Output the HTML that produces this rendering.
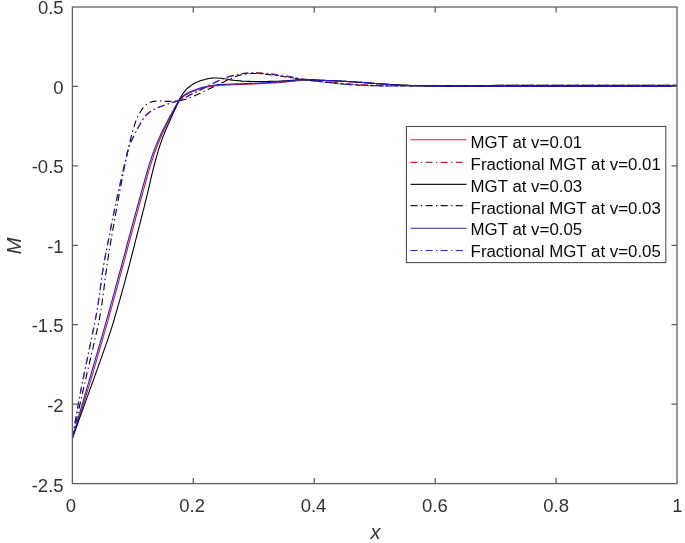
<!DOCTYPE html>
<html><head><meta charset="utf-8"><title>Plot</title>
<style>html,body{margin:0;padding:0;background:#fff;}svg{display:block;}</style></head>
<body>
<svg width="685" height="543" viewBox="0 0 685 543">
<rect width="685" height="543" fill="#fff"/>
<g fill="none" stroke-linejoin="round">
<path d="M72.4 438.0 L72.9 436.5 L73.4 435.0 L73.9 433.5 L74.4 432.0 L74.9 430.5 L75.4 429.0 L75.9 427.5 L76.4 426.0 L76.8 424.5 L77.3 423.0 L77.8 421.5 L78.3 420.0 L78.8 418.5 L79.3 417.0 L79.8 415.5 L80.3 414.0 L80.7 412.5 L81.2 411.0 L81.7 409.5 L82.2 408.0 L82.7 406.5 L83.1 405.0 L83.6 403.5 L84.1 402.0 L84.6 400.5 L85.0 399.0 L85.5 397.5 L86.0 396.0 L86.4 394.5 L86.9 393.0 L87.4 391.4 L87.8 389.9 L88.3 388.4 L88.7 386.9 L89.2 385.4 L89.6 383.9 L90.1 382.4 L90.5 380.9 L91.0 379.4 L91.4 377.9 L91.9 376.3 L92.3 374.8 L92.8 373.3 L93.2 371.8 L93.6 370.3 L94.1 368.8 L94.5 367.3 L95.0 365.7 L95.4 364.2 L95.9 362.7 L96.3 361.2 L96.7 359.7 L97.2 358.2 L97.6 356.7 L98.0 355.1 L98.5 353.6 L98.9 352.1 L99.4 350.6 L99.8 349.1 L100.2 347.6 L100.7 346.0 L101.1 344.5 L101.5 343.0 L102.0 341.5 L102.4 340.0 L102.8 338.5 L103.3 336.9 L103.7 335.4 L104.1 333.9 L104.6 332.4 L105.0 330.9 L105.4 329.4 L105.9 327.8 L106.3 326.3 L106.7 324.8 L107.2 323.3 L107.6 321.8 L108.0 320.3 L108.5 318.7 L108.9 317.2 L109.3 315.7 L109.7 314.2 L110.1 312.7 L110.6 311.1 L111.0 309.6 L111.4 308.1 L111.8 306.6 L112.3 305.1 L112.7 303.5 L113.1 302.0 L113.5 300.5 L113.9 299.0 L114.3 297.5 L114.8 295.9 L115.2 294.4 L115.6 292.9 L116.0 291.4 L116.4 289.9 L116.8 288.3 L117.3 286.8 L117.7 285.3 L118.1 283.8 L118.5 282.2 L118.9 280.7 L119.3 279.2 L119.7 277.7 L120.1 276.2 L120.6 274.6 L121.0 273.1 L121.4 271.6 L121.8 270.1 L122.2 268.5 L122.6 267.0 L123.0 265.5 L123.4 264.0 L123.8 262.4 L124.3 260.9 L124.7 259.4 L125.1 257.9 L125.5 256.4 L125.9 254.8 L126.3 253.3 L126.7 251.8 L127.1 250.3 L127.5 248.7 L127.9 247.2 L128.3 245.7 L128.7 244.2 L129.1 242.6 L129.5 241.1 L129.9 239.6 L130.3 238.1 L130.7 236.5 L131.2 235.0 L131.6 233.5 L132.0 232.0 L132.4 230.4 L132.8 228.9 L133.2 227.4 L133.6 225.9 L134.0 224.4 L134.4 222.8 L134.9 221.3 L135.3 219.8 L135.7 218.3 L136.1 216.7 L136.5 215.2 L136.9 213.7 L137.4 212.2 L137.8 210.7 L138.2 209.1 L138.6 207.6 L139.0 206.1 L139.4 204.6 L139.9 203.1 L140.3 201.5 L140.7 200.0 L141.1 198.5 L141.5 197.0 L142.0 195.5 L142.4 193.9 L142.8 192.4 L143.2 190.9 L143.6 189.4 L144.1 187.9 L144.5 186.3 L144.9 184.8 L145.3 183.3 L145.8 181.8 L146.2 180.3 L146.6 178.7 L147.0 177.2 L147.5 175.7 L147.9 174.2 L148.3 172.7 L148.8 171.2 L149.2 169.6 L149.6 168.1 L150.1 166.6 L150.6 165.1 L151.0 163.6 L151.5 162.1 L152.0 160.6 L152.5 159.1 L153.0 157.6 L153.5 156.1 L154.0 154.6 L154.6 153.1 L155.1 151.7 L155.6 150.2 L156.2 148.7 L156.7 147.2 L157.3 145.7 L157.9 144.3 L158.5 142.8 L159.1 141.4 L159.7 139.9 L160.3 138.4 L160.9 137.0 L161.5 135.5 L162.1 134.1 L162.8 132.7 L163.5 131.2 L164.1 129.8 L164.8 128.4 L165.5 127.0 L166.2 125.6 L166.9 124.1 L167.6 122.7 L168.3 121.3 L169.1 119.9 L169.8 118.5 L170.5 117.1 L171.2 115.7 L172.0 114.3 L172.7 112.9 L173.4 111.5 L174.2 110.1 L174.9 108.7 L175.7 107.4 L176.4 106.0 L177.2 104.6 L178.0 103.3 L178.8 101.9 L179.7 100.6 L180.6 99.3 L181.7 98.1 L182.8 97.0 L184.1 96.0 L185.4 95.1 L186.8 94.3 L188.2 93.5 L189.6 92.8 L191.0 92.2 L192.5 91.6 L194.0 91.1 L195.5 90.5 L196.9 90.0 L198.4 89.5 L199.9 89.0 L201.4 88.5 L202.9 88.1 L204.5 87.7 L206.0 87.3 L207.6 87.0 L209.1 86.7 L210.7 86.4 L212.2 86.2 L213.8 85.9 L215.4 85.7 L216.9 85.6 L218.5 85.4 L220.1 85.3 L221.6 85.2 L223.2 85.2 L224.8 85.1 L226.4 85.0 L227.9 84.9 L229.5 84.9 L231.1 84.8 L232.7 84.8 L234.3 84.7 L235.8 84.6 L237.4 84.6 L239.0 84.5 L240.6 84.5 L242.1 84.4 L243.7 84.4 L245.3 84.3 L246.9 84.3 L248.4 84.2 L250.0 84.1 L251.6 84.1 L253.2 84.0 L254.7 83.9 L256.3 83.8 L257.9 83.8 L259.5 83.7 L261.0 83.6 L262.6 83.5 L264.2 83.5 L265.8 83.4 L267.3 83.3 L268.9 83.2 L270.5 83.1 L272.1 83.0 L273.6 83.0 L275.2 82.9 L276.8 82.8 L278.4 82.7 L279.9 82.6 L281.5 82.4 L283.1 82.3 L284.7 82.1 L286.2 82.0 L287.8 81.8 L289.4 81.7 L290.9 81.5 L292.5 81.4 L294.1 81.2 L295.6 80.9 L297.2 80.7 L298.8 80.6 L300.3 80.4 L301.9 80.3 L303.5 80.2 L305.1 80.2 L306.6 80.1 L308.2 80.1 L309.8 80.1 L311.4 80.2 L312.9 80.2 L314.5 80.3 L316.1 80.3 L317.7 80.4 L319.3 80.4 L320.8 80.4 L322.4 80.5 L324.0 80.5 L325.6 80.6 L327.1 80.6 L328.7 80.7 L330.3 80.7 L331.9 80.7 L333.4 80.8 L335.0 80.9 L336.6 80.9 L338.2 81.0 L339.7 81.1 L341.3 81.1 L342.9 81.2 L344.5 81.3 L346.0 81.4 L347.6 81.5 L349.2 81.6 L350.8 81.7 L352.3 81.8 L353.9 81.9 L355.5 82.0 L357.1 82.1 L358.6 82.2 L360.2 82.3 L361.8 82.4 L363.4 82.5 L364.9 82.6 L366.5 82.8 L368.1 82.9 L369.6 83.0 L371.2 83.1 L372.8 83.2 L374.4 83.4 L375.9 83.5 L377.5 83.6 L379.1 83.7 L380.7 83.8 L382.2 83.9 L383.8 84.0 L385.4 84.2 L387.0 84.3 L388.5 84.4 L390.1 84.5 L391.7 84.6 L393.2 84.7 L394.8 84.8 L396.4 84.9 L398.0 85.0 L399.5 85.1 L401.1 85.1 L402.7 85.2 L404.3 85.3 L405.8 85.4 L407.4 85.4 L409.0 85.5 L410.6 85.6 L412.2 85.6 L413.7 85.7 L415.3 85.7 L416.9 85.7 L418.5 85.8 L420.0 85.8 L421.6 85.8 L423.2 85.8 L424.8 85.9 L426.3 85.9 L427.9 85.9 L429.5 85.9 L431.1 86.0 L432.7 86.0 L434.2 86.0 L435.8 86.0 L437.4 86.0 L439.0 86.0 L440.5 86.1 L442.1 86.1 L443.7 86.1 L445.3 86.1 L446.8 86.1 L448.4 86.1 L450.0 86.1 L500.0 86.1 L560.0 86.1 L620.0 86.1 L677.0 86.1" stroke="#c01c3a" stroke-width="1.1"/>
<path d="M72.4 438.0 L72.7 436.4 L72.9 434.9 L73.2 433.3 L73.4 431.8 L73.7 430.2 L73.9 428.7 L74.2 427.1 L74.5 425.6 L74.7 424.0 L75.0 422.5 L75.2 420.9 L75.5 419.4 L75.8 417.8 L76.0 416.3 L76.3 414.8 L76.6 413.2 L76.8 411.7 L77.1 410.1 L77.4 408.6 L77.7 407.0 L77.9 405.5 L78.2 403.9 L78.5 402.4 L78.8 400.8 L79.0 399.3 L79.3 397.7 L79.6 396.2 L79.9 394.6 L80.2 393.1 L80.5 391.6 L80.8 390.0 L81.1 388.5 L81.4 386.9 L81.7 385.4 L82.0 383.9 L82.3 382.3 L82.6 380.8 L82.9 379.2 L83.3 377.7 L83.6 376.2 L83.9 374.6 L84.2 373.1 L84.5 371.5 L84.8 370.0 L85.2 368.5 L85.5 366.9 L85.8 365.4 L86.1 363.8 L86.4 362.3 L86.8 360.8 L87.1 359.2 L87.4 357.7 L87.7 356.2 L88.0 354.6 L88.4 353.1 L88.7 351.5 L89.0 350.0 L89.3 348.5 L89.6 346.9 L90.0 345.4 L90.3 343.9 L90.6 342.3 L90.9 340.8 L91.2 339.2 L91.6 337.7 L91.9 336.2 L92.2 334.6 L92.5 333.1 L92.8 331.5 L93.1 330.0 L93.5 328.5 L93.8 326.9 L94.1 325.4 L94.4 323.8 L94.7 322.3 L95.0 320.8 L95.3 319.2 L95.6 317.7 L95.9 316.1 L96.2 314.6 L96.5 313.0 L96.8 311.5 L97.0 310.0 L97.3 308.4 L97.5 306.9 L97.8 305.3 L98.0 303.7 L98.2 302.2 L98.5 300.6 L98.7 299.1 L98.9 297.5 L99.1 296.0 L99.3 294.4 L99.6 292.9 L99.8 291.3 L100.0 289.7 L100.2 288.2 L100.4 286.6 L100.6 285.1 L100.8 283.5 L101.0 282.0 L101.3 280.4 L101.5 278.8 L101.7 277.3 L101.9 275.7 L102.1 274.2 L102.4 272.6 L102.6 271.1 L102.9 269.5 L103.1 268.0 L103.4 266.4 L103.6 264.9 L103.9 263.3 L104.2 261.8 L104.4 260.2 L104.7 258.7 L105.0 257.1 L105.3 255.6 L105.6 254.0 L105.9 252.5 L106.2 251.0 L106.5 249.4 L106.8 247.9 L107.1 246.3 L107.4 244.8 L107.7 243.2 L108.0 241.7 L108.3 240.2 L108.6 238.6 L108.9 237.1 L109.2 235.5 L109.5 234.0 L109.8 232.4 L110.1 230.9 L110.4 229.4 L110.7 227.8 L111.0 226.3 L111.3 224.7 L111.6 223.2 L111.9 221.7 L112.2 220.1 L112.5 218.6 L112.9 217.0 L113.2 215.5 L113.5 214.0 L113.8 212.4 L114.1 210.9 L114.4 209.3 L114.7 207.8 L115.0 206.3 L115.4 204.7 L115.7 203.2 L116.0 201.6 L116.4 200.1 L116.7 198.6 L117.0 197.0 L117.4 195.5 L117.7 194.0 L118.1 192.4 L118.4 190.9 L118.7 189.4 L119.1 187.8 L119.4 186.3 L119.8 184.8 L120.1 183.2 L120.5 181.7 L120.8 180.2 L121.2 178.7 L121.5 177.1 L121.9 175.6 L122.2 174.1 L122.6 172.5 L122.9 171.0 L123.3 169.5 L123.6 167.9 L124.0 166.4 L124.3 164.9 L124.7 163.3 L125.1 161.8 L125.4 160.3 L125.8 158.8 L126.1 157.2 L126.5 155.7 L126.9 154.2 L127.2 152.6 L127.6 151.1 L128.0 149.6 L128.5 148.1 L129.0 146.6 L129.6 145.1 L130.1 143.7 L130.7 142.2 L131.4 140.8 L132.0 139.3 L132.7 137.9 L133.4 136.5 L134.1 135.1 L134.8 133.7 L135.5 132.3 L136.2 130.9 L137.0 129.5 L137.7 128.1 L138.5 126.7 L139.2 125.4 L140.0 124.0 L140.8 122.6 L141.6 121.3 L142.4 119.9 L143.2 118.6 L144.2 117.3 L145.1 116.1 L146.1 114.9 L147.3 113.8 L148.5 112.8 L149.7 111.8 L151.0 110.9 L152.3 110.1 L153.7 109.3 L155.2 108.7 L156.6 108.0 L158.0 107.4 L159.5 106.8 L161.0 106.3 L162.4 105.7 L163.9 105.2 L165.4 104.7 L166.9 104.2 L168.4 103.7 L169.9 103.1 L171.4 102.7 L172.9 102.3 L174.4 101.9 L175.9 101.5 L177.4 101.0 L178.9 100.3 L180.3 99.7 L181.7 99.0 L183.1 98.3 L184.5 97.6 L185.9 96.9 L187.3 96.2 L188.7 95.5 L190.1 94.8 L191.6 94.1 L193.0 93.4 L194.4 92.7 L195.8 92.0 L197.2 91.3 L198.6 90.6 L200.0 89.9 L201.4 89.2 L202.8 88.5 L204.2 87.8 L205.6 87.1 L207.0 86.4 L208.4 85.7 L209.8 85.0 L211.2 84.3 L212.6 83.6 L214.0 82.9 L215.4 82.2 L216.8 81.5 L218.3 80.8 L219.7 80.1 L221.1 79.4 L222.5 78.8 L224.0 78.2 L225.5 77.7 L226.9 77.2 L228.4 76.7 L230.0 76.3 L231.5 75.8 L233.0 75.4 L234.5 75.0 L236.1 74.7 L237.6 74.3 L239.2 74.0 L240.7 73.8 L242.3 73.5 L243.8 73.3 L245.4 73.1 L246.9 73.0 L248.5 72.8 L250.1 72.7 L251.7 72.6 L253.2 72.6 L254.8 72.6 L256.4 72.6 L257.9 72.7 L259.5 72.8 L261.1 72.9 L262.6 73.0 L264.2 73.1 L265.8 73.2 L267.3 73.3 L268.9 73.5 L270.5 73.7 L272.0 73.9 L273.6 74.1 L275.1 74.3 L276.7 74.5 L278.3 74.7 L279.8 74.9 L281.4 75.1 L282.9 75.3 L284.5 75.6 L286.0 75.8 L287.6 76.0 L289.1 76.3 L290.7 76.5 L292.2 76.8 L293.8 77.1 L295.3 77.5 L296.8 77.8 L298.4 78.1 L299.9 78.4 L301.5 78.7 L303.0 78.9 L304.6 79.1 L306.2 79.3 L307.7 79.5 L309.3 79.6 L310.8 79.8 L312.4 80.0 L314.0 80.2 L315.5 80.4 L317.1 80.5 L318.6 80.7 L320.2 80.9 L321.8 81.1 L323.3 81.2 L324.9 81.4 L326.4 81.6 L328.0 81.7 L329.6 81.9 L331.1 82.1 L332.7 82.3 L334.3 82.4 L335.8 82.6 L337.4 82.8 L338.9 82.9 L340.5 83.1 L342.1 83.2 L343.6 83.4 L345.2 83.5 L346.8 83.6 L348.3 83.7 L349.9 83.9 L351.5 84.0 L353.0 84.1 L354.6 84.2 L356.2 84.3 L357.7 84.4 L359.3 84.4 L360.9 84.5 L362.5 84.6 L364.0 84.7 L365.6 84.8 L367.2 84.8 L368.7 84.9 L370.3 85.0 L371.9 85.0 L373.4 85.1 L375.0 85.1 L376.6 85.1 L378.2 85.2 L379.7 85.2 L381.3 85.2 L382.9 85.2 L384.4 85.2 L386.0 85.2 L387.6 85.2 L389.2 85.2 L390.7 85.3 L392.3 85.3 L393.9 85.3 L395.4 85.3 L397.0 85.3 L398.6 85.3 L400.2 85.3 L401.7 85.3 L403.3 85.3 L404.9 85.4 L406.4 85.4 L408.0 85.4 L409.6 85.4 L411.1 85.5 L412.7 85.5 L414.3 85.5 L415.9 85.5 L417.4 85.6 L419.0 85.6 L420.6 85.6 L422.1 85.6 L423.7 85.7 L425.3 85.7 L426.9 85.7 L428.4 85.7 L430.0 85.7 L500.0 85.4 L560.0 85.4 L620.0 85.4 L677.0 85.4" stroke="#c01c3a" stroke-width="1.1" stroke-dasharray="7 3.4 1.3 3.4" stroke-dashoffset="0.5"/>
<path d="M72.4 438.0 L72.9 436.5 L73.5 435.0 L74.0 433.5 L74.6 432.0 L75.1 430.5 L75.7 429.0 L76.2 427.5 L76.8 426.0 L77.3 424.5 L77.8 423.1 L78.4 421.6 L78.9 420.1 L79.5 418.6 L80.0 417.1 L80.6 415.6 L81.1 414.1 L81.6 412.6 L82.2 411.1 L82.7 409.6 L83.3 408.1 L83.8 406.6 L84.3 405.1 L84.9 403.6 L85.4 402.1 L86.0 400.6 L86.5 399.1 L87.0 397.6 L87.6 396.1 L88.1 394.6 L88.7 393.1 L89.2 391.6 L89.7 390.1 L90.3 388.6 L90.8 387.1 L91.4 385.6 L91.9 384.2 L92.4 382.7 L93.0 381.2 L93.5 379.7 L94.1 378.2 L94.6 376.7 L95.1 375.2 L95.7 373.7 L96.2 372.2 L96.7 370.7 L97.3 369.2 L97.8 367.7 L98.4 366.2 L98.9 364.7 L99.4 363.2 L100.0 361.7 L100.5 360.2 L101.0 358.7 L101.5 357.2 L102.1 355.7 L102.6 354.2 L103.1 352.7 L103.7 351.2 L104.2 349.7 L104.7 348.2 L105.3 346.7 L105.8 345.2 L106.3 343.7 L106.8 342.2 L107.4 340.7 L107.9 339.2 L108.4 337.7 L108.9 336.2 L109.4 334.7 L109.9 333.2 L110.4 331.6 L110.9 330.1 L111.4 328.6 L111.9 327.1 L112.3 325.6 L112.8 324.1 L113.3 322.5 L113.7 321.0 L114.2 319.5 L114.6 317.9 L115.0 316.4 L115.5 314.9 L115.9 313.4 L116.4 311.8 L116.8 310.3 L117.3 308.8 L117.7 307.2 L118.1 305.7 L118.6 304.2 L119.0 302.7 L119.4 301.1 L119.9 299.6 L120.3 298.1 L120.7 296.5 L121.2 295.0 L121.6 293.5 L122.0 291.9 L122.4 290.4 L122.9 288.9 L123.3 287.3 L123.7 285.8 L124.1 284.3 L124.6 282.7 L125.0 281.2 L125.4 279.7 L125.8 278.1 L126.2 276.6 L126.6 275.1 L127.0 273.5 L127.5 272.0 L127.9 270.4 L128.3 268.9 L128.7 267.4 L129.1 265.8 L129.5 264.3 L129.9 262.8 L130.3 261.2 L130.7 259.7 L131.1 258.1 L131.5 256.6 L131.9 255.1 L132.3 253.5 L132.7 252.0 L133.1 250.4 L133.5 248.9 L133.9 247.4 L134.3 245.8 L134.6 244.3 L135.0 242.7 L135.4 241.2 L135.8 239.6 L136.2 238.1 L136.6 236.6 L137.0 235.0 L137.4 233.5 L137.8 231.9 L138.2 230.4 L138.6 228.9 L139.0 227.3 L139.4 225.8 L139.8 224.2 L140.2 222.7 L140.6 221.1 L140.9 219.6 L141.3 218.1 L141.7 216.5 L142.1 215.0 L142.5 213.4 L142.9 211.9 L143.3 210.4 L143.7 208.8 L144.1 207.3 L144.5 205.7 L144.8 204.2 L145.2 202.6 L145.6 201.1 L146.0 199.6 L146.4 198.0 L146.8 196.5 L147.1 194.9 L147.5 193.4 L147.9 191.8 L148.2 190.3 L148.6 188.7 L149.0 187.2 L149.3 185.6 L149.7 184.1 L150.0 182.5 L150.4 181.0 L150.8 179.4 L151.1 177.9 L151.5 176.3 L151.8 174.8 L152.2 173.2 L152.6 171.7 L153.0 170.1 L153.3 168.6 L153.7 167.1 L154.1 165.5 L154.5 164.0 L155.0 162.4 L155.4 160.9 L155.8 159.4 L156.2 157.8 L156.7 156.3 L157.1 154.8 L157.5 153.3 L158.0 151.7 L158.4 150.2 L158.9 148.7 L159.4 147.2 L159.9 145.6 L160.4 144.1 L160.9 142.6 L161.4 141.1 L161.9 139.6 L162.5 138.1 L163.0 136.6 L163.6 135.1 L164.2 133.7 L164.8 132.2 L165.4 130.7 L166.1 129.3 L166.7 127.8 L167.3 126.4 L168.0 124.9 L168.6 123.5 L169.3 122.0 L169.9 120.6 L170.6 119.1 L171.2 117.6 L171.9 116.2 L172.5 114.7 L173.1 113.3 L173.8 111.8 L174.4 110.4 L175.1 108.9 L175.7 107.5 L176.4 106.0 L177.0 104.6 L177.7 103.1 L178.3 101.6 L179.0 100.2 L179.7 98.8 L180.5 97.4 L181.3 96.1 L182.2 94.7 L183.1 93.4 L184.1 92.1 L185.1 90.9 L186.1 89.7 L187.2 88.5 L188.4 87.5 L189.7 86.5 L190.9 85.5 L192.3 84.6 L193.7 83.8 L195.1 83.0 L196.5 82.3 L198.0 81.7 L199.4 81.1 L200.9 80.6 L202.5 80.1 L204.0 79.7 L205.6 79.2 L207.1 78.9 L208.7 78.5 L210.2 78.3 L211.8 78.1 L213.4 78.0 L215.0 78.0 L216.6 78.0 L218.2 78.0 L219.8 78.2 L221.4 78.3 L222.9 78.5 L224.5 78.8 L226.1 79.0 L227.6 79.3 L229.2 79.6 L230.8 79.9 L232.3 80.1 L233.9 80.3 L235.5 80.5 L237.1 80.6 L238.7 80.8 L240.3 80.9 L241.8 81.1 L243.4 81.2 L245.0 81.3 L246.6 81.3 L248.2 81.4 L249.8 81.4 L251.4 81.5 L253.0 81.5 L254.6 81.5 L256.2 81.5 L257.7 81.5 L259.3 81.5 L260.9 81.5 L262.5 81.5 L264.1 81.5 L265.7 81.5 L267.3 81.5 L268.9 81.4 L270.5 81.4 L272.1 81.4 L273.7 81.3 L275.2 81.3 L276.8 81.2 L278.4 81.2 L280.0 81.1 L281.6 81.0 L283.2 80.9 L284.8 80.8 L286.4 80.7 L288.0 80.6 L289.5 80.5 L291.1 80.4 L292.7 80.3 L294.3 80.1 L295.9 80.0 L297.5 79.8 L299.1 79.7 L300.6 79.6 L302.2 79.6 L303.8 79.6 L305.4 79.6 L307.0 79.7 L308.6 79.7 L310.2 79.8 L311.8 79.8 L313.4 79.9 L315.0 80.0 L316.5 80.0 L318.1 80.1 L319.7 80.2 L321.3 80.3 L322.9 80.3 L324.5 80.4 L326.1 80.5 L327.7 80.5 L329.3 80.6 L330.8 80.7 L332.4 80.7 L334.0 80.8 L335.6 80.9 L337.2 81.0 L338.8 81.0 L340.4 81.1 L342.0 81.2 L343.6 81.3 L345.1 81.4 L346.7 81.5 L348.3 81.6 L349.9 81.7 L351.5 81.7 L353.1 81.8 L354.7 81.9 L356.3 82.1 L357.8 82.2 L359.4 82.3 L361.0 82.4 L362.6 82.5 L364.2 82.6 L365.8 82.7 L367.4 82.8 L369.0 83.0 L370.5 83.1 L372.1 83.2 L373.7 83.3 L375.3 83.5 L376.9 83.6 L378.5 83.7 L380.1 83.8 L381.6 83.9 L383.2 84.0 L384.8 84.1 L386.4 84.2 L388.0 84.4 L389.6 84.5 L391.2 84.6 L392.8 84.7 L394.3 84.8 L395.9 84.9 L397.5 85.0 L399.1 85.0 L400.7 85.1 L402.3 85.2 L403.9 85.3 L405.5 85.4 L407.1 85.4 L408.6 85.5 L410.2 85.6 L411.8 85.6 L413.4 85.7 L415.0 85.7 L416.6 85.7 L418.2 85.8 L419.8 85.8 L421.4 85.8 L423.0 85.8 L424.5 85.9 L426.1 85.9 L427.7 85.9 L429.3 85.9 L430.9 86.0 L432.5 86.0 L434.1 86.0 L435.7 86.0 L437.3 86.0 L438.9 86.0 L440.5 86.1 L442.0 86.1 L443.6 86.1 L445.2 86.1 L446.8 86.1 L448.4 86.1 L450.0 86.1 L500.0 86.1 L560.0 86.1 L620.0 86.1 L677.0 86.1" stroke="#000" stroke-width="1.1"/>
<path d="M72.4 438.0 L72.7 436.4 L73.1 434.9 L73.4 433.4 L73.8 431.8 L74.1 430.3 L74.5 428.7 L74.8 427.2 L75.2 425.6 L75.5 424.1 L75.9 422.5 L76.2 421.0 L76.6 419.4 L76.9 417.9 L77.3 416.3 L77.6 414.8 L78.0 413.2 L78.3 411.7 L78.7 410.1 L79.0 408.6 L79.4 407.0 L79.7 405.5 L80.1 403.9 L80.4 402.4 L80.8 400.8 L81.1 399.3 L81.5 397.7 L81.8 396.2 L82.2 394.6 L82.5 393.1 L82.9 391.5 L83.2 390.0 L83.6 388.4 L83.9 386.9 L84.3 385.3 L84.6 383.8 L85.0 382.2 L85.3 380.7 L85.7 379.1 L86.1 377.6 L86.4 376.0 L86.8 374.5 L87.1 373.0 L87.5 371.4 L87.8 369.9 L88.2 368.3 L88.6 366.8 L88.9 365.2 L89.3 363.7 L89.6 362.1 L90.0 360.6 L90.4 359.0 L90.7 357.5 L91.1 355.9 L91.4 354.4 L91.8 352.8 L92.2 351.3 L92.5 349.8 L92.9 348.2 L93.3 346.7 L93.6 345.1 L94.0 343.6 L94.3 342.0 L94.7 340.5 L95.0 338.9 L95.4 337.4 L95.8 335.8 L96.1 334.3 L96.5 332.7 L96.8 331.2 L97.2 329.6 L97.5 328.1 L97.9 326.5 L98.2 325.0 L98.5 323.4 L98.8 321.9 L99.1 320.3 L99.4 318.8 L99.7 317.2 L100.0 315.6 L100.3 314.1 L100.5 312.5 L100.8 310.9 L101.1 309.4 L101.3 307.8 L101.5 306.2 L101.8 304.7 L102.0 303.1 L102.2 301.5 L102.4 299.9 L102.6 298.4 L102.9 296.8 L103.1 295.2 L103.3 293.6 L103.5 292.1 L103.7 290.5 L103.9 288.9 L104.1 287.3 L104.3 285.8 L104.5 284.2 L104.6 282.6 L104.8 281.0 L105.0 279.5 L105.2 277.9 L105.5 276.3 L105.7 274.7 L105.9 273.2 L106.1 271.6 L106.3 270.0 L106.5 268.4 L106.7 266.9 L107.0 265.3 L107.2 263.7 L107.5 262.2 L107.7 260.6 L108.0 259.0 L108.2 257.4 L108.5 255.9 L108.7 254.3 L109.0 252.7 L109.2 251.2 L109.5 249.6 L109.7 248.0 L110.0 246.5 L110.3 244.9 L110.5 243.3 L110.8 241.8 L111.0 240.2 L111.3 238.6 L111.6 237.1 L111.8 235.5 L112.1 234.0 L112.4 232.4 L112.7 230.8 L112.9 229.3 L113.2 227.7 L113.5 226.1 L113.8 224.6 L114.0 223.0 L114.3 221.4 L114.6 219.9 L114.9 218.3 L115.2 216.8 L115.4 215.2 L115.7 213.6 L116.0 212.1 L116.3 210.5 L116.6 208.9 L116.9 207.4 L117.1 205.8 L117.4 204.3 L117.7 202.7 L118.0 201.1 L118.3 199.6 L118.6 198.0 L118.9 196.4 L119.1 194.9 L119.4 193.3 L119.7 191.8 L120.0 190.2 L120.3 188.6 L120.6 187.1 L120.9 185.5 L121.2 183.9 L121.4 182.4 L121.7 180.8 L122.0 179.3 L122.3 177.7 L122.6 176.1 L122.9 174.6 L123.2 173.0 L123.5 171.5 L123.8 169.9 L124.1 168.3 L124.4 166.8 L124.8 165.2 L125.1 163.7 L125.4 162.1 L125.7 160.6 L126.1 159.0 L126.4 157.5 L126.7 155.9 L127.1 154.4 L127.4 152.8 L127.8 151.3 L128.1 149.7 L128.4 148.2 L128.8 146.6 L129.1 145.1 L129.5 143.5 L129.8 142.0 L130.2 140.4 L130.6 138.9 L131.0 137.3 L131.4 135.8 L131.8 134.3 L132.3 132.7 L132.7 131.2 L133.2 129.7 L133.6 128.2 L134.1 126.7 L134.5 125.1 L135.0 123.6 L135.5 122.1 L136.0 120.6 L136.6 119.2 L137.3 117.7 L138.0 116.3 L138.8 114.9 L139.5 113.5 L140.3 112.1 L141.1 110.7 L141.9 109.4 L142.9 108.1 L143.9 106.9 L145.0 105.8 L146.2 104.7 L147.5 103.7 L148.9 102.9 L150.4 102.3 L151.9 101.8 L153.5 101.4 L155.0 101.2 L156.6 101.0 L158.2 101.0 L159.8 101.0 L161.4 101.1 L163.0 101.2 L164.5 101.3 L166.1 101.4 L167.7 101.4 L169.3 101.4 L170.9 101.3 L172.5 101.2 L174.1 101.1 L175.6 101.0 L177.2 100.8 L178.8 100.6 L180.4 100.4 L181.9 100.1 L183.5 99.8 L185.0 99.4 L186.6 98.9 L188.1 98.4 L189.6 97.8 L191.1 97.2 L192.5 96.6 L194.0 96.0 L195.5 95.4 L196.9 94.7 L198.4 94.1 L199.8 93.4 L201.2 92.8 L202.7 92.1 L204.1 91.4 L205.5 90.7 L207.0 90.0 L208.4 89.3 L209.8 88.6 L211.2 87.9 L212.7 87.2 L214.1 86.5 L215.5 85.8 L216.9 85.1 L218.4 84.4 L219.8 83.7 L221.2 83.1 L222.6 82.4 L224.1 81.7 L225.5 81.0 L226.9 80.3 L228.4 79.7 L229.8 79.0 L231.3 78.4 L232.7 77.8 L234.2 77.1 L235.7 76.5 L237.2 76.0 L238.7 75.5 L240.2 75.1 L241.8 74.7 L243.4 74.4 L244.9 74.2 L246.5 74.0 L248.1 73.8 L249.7 73.7 L251.3 73.5 L252.9 73.5 L254.5 73.5 L256.0 73.5 L257.6 73.6 L259.2 73.7 L260.8 73.8 L262.4 74.0 L263.9 74.1 L265.5 74.3 L267.1 74.4 L268.7 74.6 L270.3 74.8 L271.8 75.0 L273.4 75.2 L275.0 75.4 L276.6 75.6 L278.1 75.8 L279.7 76.0 L281.3 76.2 L282.9 76.5 L284.4 76.7 L286.0 76.9 L287.6 77.1 L289.2 77.4 L290.7 77.6 L292.3 77.9 L293.9 78.1 L295.4 78.4 L297.0 78.7 L298.5 79.0 L300.1 79.2 L301.7 79.5 L303.3 79.7 L304.8 79.9 L306.4 80.0 L308.0 80.2 L309.6 80.4 L311.1 80.6 L312.7 80.8 L314.3 81.0 L315.9 81.1 L317.5 81.3 L319.0 81.5 L320.6 81.7 L322.2 81.8 L323.8 82.0 L325.3 82.2 L326.9 82.4 L328.5 82.5 L330.1 82.7 L331.7 82.9 L333.2 83.1 L334.8 83.2 L336.4 83.4 L338.0 83.6 L339.6 83.7 L341.1 83.9 L342.7 84.0 L344.3 84.2 L345.9 84.3 L347.5 84.4 L349.0 84.5 L350.6 84.6 L352.2 84.7 L353.8 84.8 L355.4 84.9 L357.0 85.0 L358.6 85.1 L360.1 85.2 L361.7 85.3 L363.3 85.4 L364.9 85.4 L366.5 85.5 L368.1 85.6 L369.7 85.6 L371.3 85.7 L372.8 85.7 L374.4 85.8 L376.0 85.8 L377.6 85.9 L379.2 85.9 L380.8 85.9 L382.4 85.9 L384.0 85.9 L385.5 86.0 L387.1 86.0 L388.7 86.0 L390.3 86.0 L391.9 86.0 L393.5 86.0 L395.1 86.0 L396.7 86.0 L398.2 86.0 L399.8 86.0 L401.4 86.0 L403.0 86.0 L404.6 86.0 L406.2 85.9 L407.8 85.9 L409.4 85.9 L410.9 85.9 L412.5 85.9 L414.1 85.9 L415.7 85.8 L417.3 85.8 L418.9 85.8 L420.5 85.8 L422.1 85.8 L423.6 85.7 L425.2 85.7 L426.8 85.7 L428.4 85.7 L430.0 85.7 L500.0 85.4 L560.0 85.4 L620.0 85.4 L677.0 85.4" stroke="#000" stroke-width="1.1" stroke-dasharray="7 3.4 1.3 3.4" stroke-dashoffset="0"/>
<path d="M72.4 438.0 L72.8 436.5 L73.3 435.0 L73.7 433.5 L74.2 431.9 L74.6 430.4 L75.1 428.9 L75.5 427.4 L75.9 425.9 L76.4 424.4 L76.8 422.8 L77.3 421.3 L77.7 419.8 L78.2 418.3 L78.6 416.8 L79.0 415.3 L79.5 413.7 L79.9 412.2 L80.4 410.7 L80.8 409.2 L81.2 407.7 L81.7 406.2 L82.1 404.6 L82.6 403.1 L83.0 401.6 L83.5 400.1 L83.9 398.6 L84.3 397.0 L84.8 395.5 L85.2 394.0 L85.7 392.5 L86.1 391.0 L86.5 389.5 L87.0 387.9 L87.4 386.4 L87.9 384.9 L88.3 383.4 L88.8 381.9 L89.2 380.4 L89.6 378.8 L90.1 377.3 L90.5 375.8 L91.0 374.3 L91.4 372.8 L91.8 371.3 L92.3 369.7 L92.7 368.2 L93.2 366.7 L93.6 365.2 L94.0 363.7 L94.5 362.2 L94.9 360.6 L95.4 359.1 L95.8 357.6 L96.2 356.1 L96.7 354.6 L97.1 353.1 L97.6 351.5 L98.0 350.0 L98.4 348.5 L98.9 347.0 L99.3 345.5 L99.8 343.9 L100.2 342.4 L100.6 340.9 L101.1 339.4 L101.5 337.9 L102.0 336.4 L102.4 334.8 L102.8 333.3 L103.3 331.8 L103.7 330.3 L104.1 328.8 L104.6 327.2 L105.0 325.7 L105.4 324.2 L105.8 322.7 L106.3 321.2 L106.7 319.6 L107.1 318.1 L107.5 316.6 L108.0 315.1 L108.4 313.6 L108.8 312.0 L109.2 310.5 L109.7 309.0 L110.1 307.5 L110.5 305.9 L110.9 304.4 L111.3 302.9 L111.8 301.4 L112.2 299.9 L112.6 298.3 L113.0 296.8 L113.4 295.3 L113.9 293.8 L114.3 292.2 L114.7 290.7 L115.1 289.2 L115.5 287.7 L115.9 286.1 L116.3 284.6 L116.8 283.1 L117.2 281.6 L117.6 280.0 L118.0 278.5 L118.4 277.0 L118.8 275.5 L119.2 273.9 L119.7 272.4 L120.1 270.9 L120.5 269.4 L120.9 267.8 L121.3 266.3 L121.7 264.8 L122.1 263.3 L122.5 261.7 L122.9 260.2 L123.4 258.7 L123.8 257.2 L124.2 255.6 L124.6 254.1 L125.0 252.6 L125.4 251.1 L125.8 249.5 L126.2 248.0 L126.6 246.5 L127.0 244.9 L127.4 243.4 L127.8 241.9 L128.2 240.4 L128.6 238.8 L129.0 237.3 L129.4 235.8 L129.9 234.3 L130.3 232.7 L130.7 231.2 L131.1 229.7 L131.5 228.2 L131.9 226.6 L132.3 225.1 L132.7 223.6 L133.2 222.1 L133.6 220.5 L134.0 219.0 L134.4 217.5 L134.8 216.0 L135.2 214.4 L135.7 212.9 L136.1 211.4 L136.5 209.9 L136.9 208.3 L137.3 206.8 L137.7 205.3 L138.2 203.8 L138.6 202.3 L139.0 200.7 L139.4 199.2 L139.8 197.7 L140.3 196.2 L140.7 194.6 L141.1 193.1 L141.5 191.6 L141.9 190.1 L142.4 188.5 L142.8 187.0 L143.2 185.5 L143.6 184.0 L144.1 182.5 L144.5 180.9 L144.9 179.4 L145.4 177.9 L145.8 176.4 L146.2 174.9 L146.7 173.3 L147.1 171.8 L147.5 170.3 L147.9 168.8 L148.4 167.3 L148.8 165.8 L149.3 164.2 L149.8 162.7 L150.3 161.2 L150.8 159.7 L151.3 158.2 L151.8 156.7 L152.3 155.2 L152.8 153.8 L153.4 152.3 L153.9 150.8 L154.5 149.3 L155.0 147.8 L155.6 146.4 L156.2 144.9 L156.8 143.4 L157.4 142.0 L158.1 140.5 L158.7 139.1 L159.3 137.6 L160.0 136.2 L160.6 134.8 L161.3 133.3 L162.0 131.9 L162.7 130.5 L163.4 129.1 L164.1 127.6 L164.8 126.2 L165.5 124.8 L166.2 123.4 L167.0 122.0 L167.7 120.6 L168.4 119.2 L169.2 117.8 L169.9 116.4 L170.7 115.1 L171.4 113.7 L172.2 112.3 L172.9 110.9 L173.7 109.5 L174.4 108.1 L175.2 106.7 L176.0 105.4 L176.8 104.0 L177.6 102.7 L178.4 101.3 L179.3 100.0 L180.3 98.7 L181.3 97.5 L182.4 96.4 L183.7 95.4 L185.0 94.5 L186.4 93.6 L187.8 92.9 L189.2 92.2 L190.6 91.6 L192.1 91.0 L193.6 90.4 L195.1 89.9 L196.5 89.3 L198.0 88.8 L199.5 88.3 L201.0 87.8 L202.6 87.4 L204.1 87.0 L205.6 86.7 L207.2 86.3 L208.7 86.0 L210.3 85.7 L211.9 85.5 L213.4 85.2 L215.0 85.0 L216.6 84.9 L218.1 84.7 L219.7 84.6 L221.3 84.5 L222.9 84.5 L224.4 84.4 L226.0 84.3 L227.6 84.2 L229.2 84.2 L230.8 84.1 L232.3 84.1 L233.9 84.0 L235.5 83.9 L237.1 83.9 L238.6 83.8 L240.2 83.8 L241.8 83.7 L243.4 83.7 L245.0 83.6 L246.5 83.6 L248.1 83.5 L249.7 83.4 L251.3 83.4 L252.9 83.3 L254.4 83.2 L256.0 83.1 L257.6 83.1 L259.2 83.0 L260.7 82.9 L262.3 82.8 L263.9 82.8 L265.5 82.7 L267.1 82.6 L268.6 82.5 L270.2 82.4 L271.8 82.3 L273.4 82.3 L274.9 82.2 L276.5 82.1 L278.1 82.0 L279.7 81.9 L281.2 81.7 L282.8 81.6 L284.4 81.4 L286.0 81.3 L287.5 81.1 L289.1 81.0 L290.7 80.8 L292.3 80.6 L293.8 80.4 L295.4 80.2 L297.0 80.0 L298.5 79.8 L300.1 79.7 L301.7 79.6 L303.3 79.6 L304.8 79.6 L306.4 79.6 L308.0 79.6 L309.6 79.7 L311.1 79.8 L312.7 79.8 L314.3 79.9 L315.9 80.0 L317.5 80.1 L319.0 80.2 L320.6 80.2 L322.2 80.3 L323.8 80.4 L325.4 80.4 L326.9 80.5 L328.5 80.6 L330.1 80.6 L331.7 80.7 L333.2 80.8 L334.8 80.8 L336.4 80.9 L338.0 81.0 L339.6 81.1 L341.1 81.2 L342.7 81.2 L344.3 81.3 L345.9 81.4 L347.4 81.5 L349.0 81.6 L350.6 81.7 L352.2 81.8 L353.8 81.9 L355.3 82.0 L356.9 82.1 L358.5 82.2 L360.1 82.3 L361.6 82.4 L363.2 82.5 L364.8 82.6 L366.4 82.8 L367.9 82.9 L369.5 83.0 L371.1 83.1 L372.7 83.2 L374.2 83.4 L375.8 83.5 L377.4 83.6 L379.0 83.7 L380.5 83.8 L382.1 84.0 L383.7 84.1 L385.3 84.2 L386.8 84.3 L388.4 84.4 L390.0 84.5 L391.6 84.6 L393.2 84.7 L394.7 84.8 L396.3 84.9 L397.9 85.0 L399.5 85.1 L401.0 85.2 L402.6 85.2 L404.2 85.3 L405.8 85.4 L407.4 85.5 L408.9 85.5 L410.5 85.6 L412.1 85.6 L413.7 85.7 L415.2 85.7 L416.8 85.7 L418.4 85.8 L420.0 85.8 L421.6 85.8 L423.1 85.9 L424.7 85.9 L426.3 85.9 L427.9 85.9 L429.5 85.9 L431.0 86.0 L432.6 86.0 L434.2 86.0 L435.8 86.0 L437.4 86.0 L438.9 86.0 L440.5 86.1 L442.1 86.1 L443.7 86.1 L445.3 86.1 L446.8 86.1 L448.4 86.1 L450.0 86.1 L500.0 86.1 L560.0 86.1 L620.0 86.1 L677.0 86.1" stroke="#2218cc" stroke-width="1.1"/>
<path d="M72.4 438.0 L72.7 436.5 L72.9 434.9 L73.2 433.4 L73.5 431.8 L73.7 430.3 L74.0 428.7 L74.3 427.2 L74.5 425.6 L74.8 424.1 L75.1 422.5 L75.3 421.0 L75.6 419.4 L75.9 417.9 L76.1 416.3 L76.4 414.8 L76.7 413.2 L77.0 411.7 L77.2 410.1 L77.5 408.6 L77.8 407.1 L78.1 405.5 L78.4 404.0 L78.6 402.4 L78.9 400.9 L79.2 399.3 L79.5 397.8 L79.8 396.2 L80.1 394.7 L80.4 393.2 L80.7 391.6 L81.0 390.1 L81.3 388.5 L81.6 387.0 L81.9 385.5 L82.2 383.9 L82.5 382.4 L82.8 380.8 L83.1 379.3 L83.5 377.8 L83.8 376.2 L84.1 374.7 L84.4 373.1 L84.7 371.6 L85.0 370.1 L85.4 368.5 L85.7 367.0 L86.0 365.5 L86.3 363.9 L86.6 362.4 L87.0 360.8 L87.3 359.3 L87.6 357.8 L87.9 356.2 L88.2 354.7 L88.6 353.2 L88.9 351.6 L89.2 350.1 L89.5 348.5 L89.8 347.0 L90.2 345.5 L90.5 343.9 L90.8 342.4 L91.1 340.9 L91.4 339.3 L91.8 337.8 L92.1 336.2 L92.4 334.7 L92.7 333.2 L93.0 331.6 L93.3 330.1 L93.7 328.6 L94.0 327.0 L94.3 325.5 L94.6 323.9 L94.9 322.4 L95.2 320.9 L95.5 319.3 L95.8 317.8 L96.1 316.2 L96.4 314.7 L96.7 313.1 L97.0 311.6 L97.2 310.1 L97.5 308.5 L97.7 307.0 L98.0 305.4 L98.2 303.8 L98.4 302.3 L98.7 300.7 L98.9 299.2 L99.1 297.6 L99.3 296.1 L99.5 294.5 L99.8 293.0 L100.0 291.4 L100.2 289.8 L100.4 288.3 L100.6 286.7 L100.8 285.2 L101.0 283.6 L101.2 282.1 L101.5 280.5 L101.7 279.0 L101.9 277.4 L102.1 275.8 L102.3 274.3 L102.6 272.7 L102.8 271.2 L103.1 269.6 L103.3 268.1 L103.6 266.5 L103.8 265.0 L104.1 263.4 L104.4 261.9 L104.6 260.3 L104.9 258.8 L105.2 257.3 L105.5 255.7 L105.8 254.2 L106.1 252.6 L106.4 251.1 L106.7 249.5 L107.0 248.0 L107.3 246.5 L107.6 244.9 L107.9 243.4 L108.2 241.8 L108.5 240.3 L108.8 238.7 L109.1 237.2 L109.4 235.7 L109.7 234.1 L110.0 232.6 L110.3 231.0 L110.6 229.5 L110.9 228.0 L111.2 226.4 L111.5 224.9 L111.8 223.3 L112.1 221.8 L112.4 220.3 L112.7 218.7 L113.0 217.2 L113.4 215.6 L113.7 214.1 L114.0 212.6 L114.3 211.0 L114.6 209.5 L114.9 207.9 L115.2 206.4 L115.6 204.9 L115.9 203.3 L116.2 201.8 L116.5 200.3 L116.9 198.7 L117.2 197.2 L117.6 195.7 L117.9 194.1 L118.2 192.6 L118.6 191.1 L118.9 189.5 L119.3 188.0 L119.6 186.5 L120.0 184.9 L120.3 183.4 L120.7 181.9 L121.0 180.3 L121.4 178.8 L121.7 177.3 L122.1 175.8 L122.4 174.2 L122.8 172.7 L123.1 171.2 L123.5 169.6 L123.8 168.1 L124.2 166.6 L124.5 165.0 L124.9 163.5 L125.2 162.0 L125.6 160.4 L126.0 158.9 L126.3 157.4 L126.7 155.9 L127.0 154.3 L127.4 152.8 L127.8 151.3 L128.2 149.8 L128.7 148.3 L129.2 146.8 L129.7 145.3 L130.3 143.8 L130.9 142.4 L131.5 141.0 L132.2 139.5 L132.9 138.1 L133.5 136.7 L134.2 135.3 L134.9 133.9 L135.7 132.5 L136.4 131.1 L137.1 129.7 L137.9 128.3 L138.6 126.9 L139.4 125.5 L140.2 124.2 L140.9 122.8 L141.7 121.5 L142.5 120.1 L143.4 118.8 L144.3 117.5 L145.3 116.3 L146.3 115.1 L147.4 114.0 L148.6 113.0 L149.9 112.0 L151.1 111.1 L152.4 110.2 L153.8 109.5 L155.3 108.8 L156.7 108.2 L158.1 107.6 L159.6 107.0 L161.1 106.4 L162.5 105.9 L164.0 105.3 L165.5 104.8 L167.0 104.3 L168.5 103.8 L170.0 103.3 L171.5 102.8 L173.0 102.4 L174.5 102.0 L176.0 101.6 L177.5 101.1 L179.0 100.5 L180.4 99.8 L181.8 99.2 L183.2 98.5 L184.6 97.8 L186.0 97.1 L187.4 96.4 L188.8 95.7 L190.2 95.0 L191.6 94.3 L193.0 93.6 L194.5 92.9 L195.9 92.2 L197.3 91.5 L198.7 90.8 L200.1 90.1 L201.5 89.4 L202.9 88.7 L204.3 88.0 L205.7 87.3 L207.1 86.6 L208.5 85.8 L209.9 85.1 L211.3 84.4 L212.7 83.7 L214.1 83.0 L215.5 82.3 L216.9 81.6 L218.3 80.9 L219.7 80.2 L221.2 79.6 L222.6 79.0 L224.1 78.4 L225.5 77.8 L227.0 77.3 L228.5 76.9 L230.0 76.4 L231.6 76.0 L233.1 75.6 L234.6 75.2 L236.2 74.8 L237.7 74.5 L239.3 74.3 L240.8 74.0 L242.4 73.8 L243.9 73.6 L245.5 73.4 L247.0 73.3 L248.6 73.2 L250.2 73.1 L251.8 73.0 L253.3 73.0 L254.9 73.1 L256.5 73.1 L258.0 73.2 L259.6 73.4 L261.2 73.5 L262.7 73.6 L264.3 73.7 L265.8 73.9 L267.4 74.1 L269.0 74.2 L270.5 74.4 L272.1 74.6 L273.7 74.8 L275.2 75.0 L276.8 75.2 L278.3 75.5 L279.9 75.7 L281.4 75.9 L283.0 76.1 L284.5 76.3 L286.1 76.6 L287.6 76.8 L289.2 77.1 L290.7 77.3 L292.3 77.6 L293.8 77.9 L295.4 78.3 L296.9 78.6 L298.4 78.9 L300.0 79.2 L301.5 79.4 L303.1 79.6 L304.6 79.8 L306.2 80.0 L307.8 80.2 L309.3 80.4 L310.9 80.6 L312.4 80.8 L314.0 80.9 L315.6 81.1 L317.1 81.3 L318.7 81.5 L320.3 81.6 L321.8 81.8 L323.4 82.0 L324.9 82.1 L326.5 82.3 L328.1 82.5 L329.6 82.7 L331.2 82.8 L332.7 83.0 L334.3 83.2 L335.9 83.3 L337.4 83.5 L339.0 83.7 L340.5 83.8 L342.1 84.0 L343.7 84.1 L345.2 84.2 L346.8 84.4 L348.4 84.5 L349.9 84.6 L351.5 84.7 L353.1 84.8 L354.6 84.9 L356.2 85.0 L357.8 85.1 L359.3 85.2 L360.9 85.2 L362.5 85.3 L364.1 85.4 L365.6 85.5 L367.2 85.5 L368.8 85.6 L370.3 85.7 L371.9 85.7 L373.5 85.8 L375.0 85.8 L376.6 85.8 L378.2 85.9 L379.7 85.9 L381.3 85.9 L382.9 85.9 L384.5 86.0 L386.0 86.0 L387.6 86.0 L389.2 86.0 L390.7 86.0 L392.3 86.0 L393.9 86.0 L395.5 86.0 L397.0 86.0 L398.6 86.0 L400.2 86.0 L401.7 86.0 L403.3 86.0 L404.9 86.0 L406.4 85.9 L408.0 85.9 L409.6 85.9 L411.2 85.9 L412.7 85.9 L414.3 85.9 L415.9 85.8 L417.4 85.8 L419.0 85.8 L420.6 85.8 L422.1 85.8 L423.7 85.7 L425.3 85.7 L426.9 85.7 L428.4 85.7 L430.0 85.7 L500.0 85.4 L560.0 85.4 L620.0 85.4 L677.0 85.4" stroke="#2218cc" stroke-width="1.1" stroke-dasharray="7 3.4 1.3 3.4" stroke-dashoffset="0"/>
</g>
<rect x="72.4" y="7.0" width="604.6" height="476.6" fill="none" stroke="#606060" stroke-width="1.3"/>
<path d="M193.3 483.6 v-5.5 M193.3 7.0 v5.5 M314.2 483.6 v-5.5 M314.2 7.0 v5.5 M435.2 483.6 v-5.5 M435.2 7.0 v5.5 M556.1 483.6 v-5.5 M556.1 7.0 v5.5 M72.4 86.4 h5.5 M677.0 86.4 h-5.5 M72.4 165.9 h5.5 M677.0 165.9 h-5.5 M72.4 245.3 h5.5 M677.0 245.3 h-5.5 M72.4 324.7 h5.5 M677.0 324.7 h-5.5 M72.4 404.2 h5.5 M677.0 404.2 h-5.5" stroke="#606060" stroke-width="1.3" fill="none"/>
<g font-family="Liberation Sans, sans-serif" font-size="18.5" fill="#333">
<text x="70.9" y="511.5" text-anchor="middle">0</text>
<text x="192.2" y="511.5" text-anchor="middle">0.2</text>
<text x="313.5" y="511.5" text-anchor="middle">0.4</text>
<text x="434.9" y="511.5" text-anchor="middle">0.6</text>
<text x="556.2" y="511.5" text-anchor="middle">0.8</text>
<text x="677.5" y="511.5" text-anchor="middle">1</text>
<text x="63.6" y="14.0" text-anchor="end">0.5</text>
<text x="63.6" y="93.6" text-anchor="end">0</text>
<text x="63.6" y="173.2" text-anchor="end">-0.5</text>
<text x="63.6" y="252.8" text-anchor="end">-1</text>
<text x="63.6" y="332.3" text-anchor="end">-1.5</text>
<text x="63.6" y="411.9" text-anchor="end">-2</text>
<text x="63.6" y="491.5" text-anchor="end">-2.5</text>
</g>
<text font-family="Liberation Sans, sans-serif" font-size="20" font-style="italic" fill="#333" x="375.4" y="538.9" text-anchor="middle">x</text>
<text font-family="Liberation Sans, sans-serif" font-size="20" font-style="italic" fill="#333" text-anchor="middle" transform="translate(20.5 246) rotate(-90)">M</text>
<rect x="406.4" y="126.5" width="259.4" height="136.10000000000002" fill="#fff" stroke="#505050" stroke-width="1.1"/>
<g font-family="Liberation Sans, sans-serif" font-size="16.85" fill="#0a0a0a">
<path d="M410.5 139.7 H466.5" stroke="#b42842" stroke-width="1.1" fill="none"/>
<text x="470.6" y="147.8">MGT at v=0.01</text>
<path d="M410.5 162.4 H466.5" stroke="#b42842" stroke-width="1.1" fill="none" stroke-dasharray="7 3.4 1.3 3.4"/>
<text x="470.6" y="169.7">Fractional MGT at v=0.01</text>
<path d="M410.5 184.4 H466.5" stroke="#1c1c1c" stroke-width="1.1" fill="none"/>
<text x="470.6" y="191.6">MGT at v=0.03</text>
<path d="M410.5 205.6 H466.5" stroke="#1c1c1c" stroke-width="1.1" fill="none" stroke-dasharray="7 3.4 1.3 3.4"/>
<text x="470.6" y="213.5">Fractional MGT at v=0.03</text>
<path d="M410.5 228.3 H466.5" stroke="#3028b0" stroke-width="1.1" fill="none"/>
<text x="470.6" y="235.4">MGT at v=0.05</text>
<path d="M410.5 250.5 H466.5" stroke="#3028b0" stroke-width="1.1" fill="none" stroke-dasharray="7 3.4 1.3 3.4"/>
<text x="470.6" y="257.3">Fractional MGT at v=0.05</text>
</g>
</svg>
</body></html>
